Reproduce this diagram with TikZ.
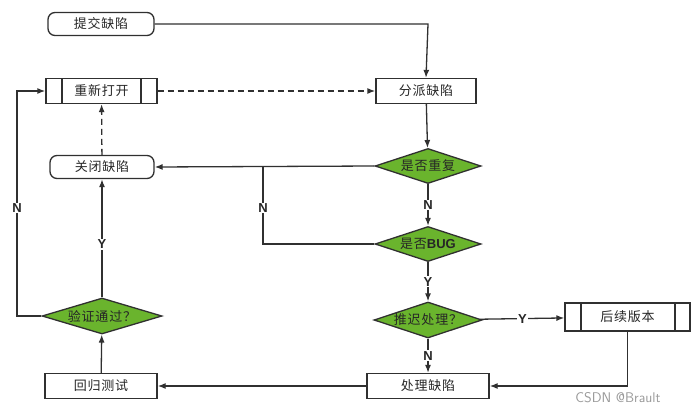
\documentclass[tikz,border=0pt]{standalone}
\usepackage{fontspec}
\setmainfont{Noto Sans CJK SC}[LetterSpace=6]
\newfontfamily\lat{Liberation Sans}
\usetikzlibrary{shapes.geometric,shapes.multipart,arrows.meta}
\definecolor{dg}{HTML}{6AB42D}
\definecolor{ln}{HTML}{303030}
\begin{document}
\begin{tikzpicture}[x=1pt,y=-1pt,
  every node/.style={font=\fontsize{13}{15}\selectfont,text=black!85},
  term/.style={draw=ln,line width=1.3pt,rounded corners=7pt,minimum height=23pt,inner sep=0pt},
  box/.style={draw=ln,line width=1.3pt,minimum height=25pt,inner sep=0pt},
  dia/.style={draw=ln,line width=1.3pt,fill=dg,diamond,aspect=3,inner sep=0pt,minimum width=106pt,minimum height=35pt},
  lab/.style={font=\lat\bfseries\fontsize{13}{15}\selectfont,fill=white,inner sep=1pt},
  arr/.style={draw=ln,line width=1.3pt,-{Latex[length=8pt,width=6pt]}},
  dsh/.style={arr,dash pattern=on 6pt off 4pt}]
\useasboundingbox[fill=white] (0,0) rectangle (698,415);
\node[term,minimum width=106pt] (sub) at (101,24) {提交缺陷};
\node[box,minimum width=111pt] (reo) at (101.5,91) {重新打开};
\draw[ln,line width=1.3pt] (62,78.5) -- (62,103.5) (141,78.5) -- (141,103.5);
\node[box,minimum width=100pt] (asg) at (426,91) {分派缺陷};
\node[term,minimum width=104pt] (cls) at (102,167) {关闭缺陷};
\node[dia] (dup) at (428,166) {是否重复};
\node[dia] (bug) at (428,244) {是否{\lat\bfseries BUG}};
\node[dia,minimum width=108pt,minimum height=36pt] (del) at (428,320) {推迟处理？};
\node[box,minimum width=125pt,minimum height=28pt] (nxt) at (627.5,317) {后续版本};
\draw[ln,line width=1.3pt] (581,303) -- (581,331) (675,303) -- (675,331);
\node[dia,minimum width=120pt,minimum height=36pt] (ver) at (102,316) {验证通过？};
\node[box,minimum width=112pt] (reg) at (101,386) {回归测试};
\node[box,minimum width=122pt] (fix) at (428,386) {处理缺陷};
\coordinate (c1) at (428,24);
\coordinate (c2) at (263,166);
\coordinate (c3) at (263,244);
\coordinate (c4) at (627.5,386);
\coordinate (c5) at (17,316);
\coordinate (c6) at (17,91);
\draw[arr] (sub.east) -- (c1) -- (asg.north);
\draw[dsh] (reo.east) -- (asg.west);
\draw[arr] (asg) -- (dup);
\draw[arr] (dup.west) -- (cls.east);
\draw[ln,line width=1.3pt] (bug.west) -- (c3) -- (c2);
\node[lab] at (263,208) {N};
\draw[arr] (dup) -- node[lab]{N} (bug);
\draw[arr] (bug) -- node[lab]{Y} (del);
\draw[arr] (del) -- node[lab]{Y} (nxt);
\draw[arr] (del) -- node[lab]{N} (fix);
\draw[arr] (nxt.south) -- (c4) -- (fix.east);
\draw[arr] (fix) -- (reg);
\draw[arr] (reg) -- (ver);
\draw[arr] (ver) -- node[lab,pos=0.45]{Y} (cls);
\draw[arr] (ver.west) -- (c5) -- node[lab,pos=0.48]{N} (c6) -- (reo.west);
\draw[dsh] (cls) -- (reo);
\node[font=\fontsize{14}{16}\selectfont\sffamily,text=black!40] (wm) at (618,398) {CSDN @Brault};
\end{tikzpicture}
\end{document}
